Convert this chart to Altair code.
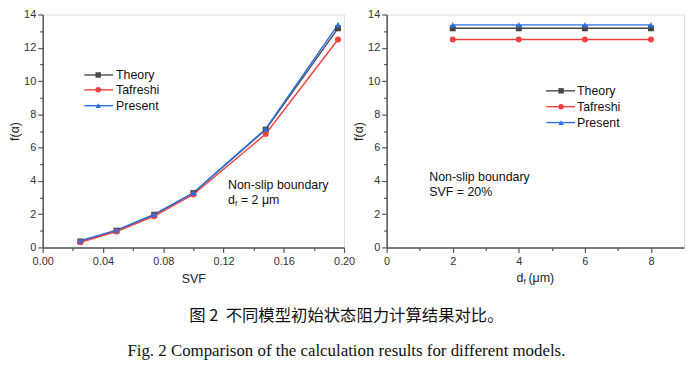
import altair as alt
import pandas as pd

# ---------------- data ----------------
series = ["Theory", "Tafreshi", "Present"]
colors = ["#474747", "#f23f3f", "#2b6fe3"]
shapes = ["square", "circle", "triangle-up"]

svf = [0.025, 0.049, 0.074, 0.100, 0.148, 0.196]
theory_svf = [0.36, 1.01, 1.97, 3.27, 7.08, 13.17]
tafreshi_svf = [0.31, 0.96, 1.88, 3.18, 6.82, 12.50]
present_svf = [0.40, 1.04, 1.99, 3.28, 7.12, 13.39]

df_um = [2, 4, 6, 8]
theory_df = [13.17, 13.17, 13.17, 13.17]
tafreshi_df = [12.50, 12.50, 12.50, 12.50]
present_df = [13.38, 13.38, 13.38, 13.38]

x_ticks_left = [0.00, 0.02, 0.04, 0.06, 0.08, 0.10, 0.12, 0.14, 0.16, 0.18, 0.20]
x_ticks_right = [0, 1, 2, 3, 4, 5, 6, 7, 8]
y_ticks = list(range(0, 15))

left_rows = []
for s, ys in zip(series, [theory_svf, tafreshi_svf, present_svf]):
    for x, y in zip(svf, ys):
        left_rows.append({"x": x, "y": y, "series": s})
left_df = pd.DataFrame(left_rows)

right_rows = []
for s, ys in zip(series, [theory_df, tafreshi_df, present_df]):
    for x, y in zip(df_um, ys):
        right_rows.append({"x": x, "y": y, "series": s})
right_df = pd.DataFrame(right_rows)

# ---------------- styling ----------------
FONT = "Liberation Sans"
AX = "#555555"
LW, LH = 304, 235
RW, RH = 300, 235

color_scale = alt.Scale(domain=series, range=colors)
shape_scale = alt.Scale(domain=series, range=shapes)


def y_axis():
    return alt.Axis(
        values=y_ticks,
        labelExpr="datum.value % 2 == 0 ? datum.value : ''",
        tickSize={"condition": {"test": "datum.value % 2 == 0", "value": 5}, "value": 3},
        title="f(α)",
        titleFont=FONT, titleFontSize=12.5, titleFontWeight="normal", titleColor="#222",
        titlePadding=2,
        labelFont=FONT, labelFontSize=11, labelColor="#333", labelPadding=2,
        domainColor=AX, domainWidth=1.5, tickColor=AX, tickWidth=1.2, grid=False,
    )


def panel(data, xaxis, xdomain):
    base = alt.Chart(data)
    x = alt.X("x:Q", scale=alt.Scale(domain=xdomain, nice=False, zero=False), axis=xaxis)
    y = alt.Y("y:Q", scale=alt.Scale(domain=[0, 14], nice=False), axis=y_axis())
    lines = base.mark_line(strokeWidth=1.4).encode(
        x=x, y=y,
        color=alt.Color("series:N", scale=color_scale, legend=None),
        detail="series:N",
    )
    pts = base.mark_point(filled=True, size=36, opacity=1).encode(
        x=x, y=y,
        color=alt.Color("series:N", scale=color_scale, legend=None),
        shape=alt.Shape("series:N", scale=shape_scale, legend=None),
    )
    return [lines, pts]


def legend_layers(x1, x2, xm, xt, ys):
    out = []
    for s, c, sh, yy in zip(series, colors, shapes, ys):
        d = pd.DataFrame({"label": [s]})
        out.append(alt.Chart(d).mark_rule(color=c, strokeWidth=1.4).encode(
            x=alt.value(x1), x2=alt.value(x2), y=alt.value(yy)))
        out.append(alt.Chart(d).mark_point(filled=True, size=30, color=c, shape=sh, opacity=1).encode(
            x=alt.value(xm), y=alt.value(yy)))
        out.append(alt.Chart(d).mark_text(align="left", baseline="middle", font=FONT,
                                          fontSize=12.5, color="#111").encode(
            x=alt.value(xt), y=alt.value(yy), text="label:N"))
    return out


def text_at(t, x, y, size=12.5, color="#111"):
    d = pd.DataFrame({"t": [t]})
    return alt.Chart(d).mark_text(align="left", baseline="middle", font=FONT,
                                  fontSize=size, color=color).encode(
        x=alt.value(x), y=alt.value(y), text="t:N")


# ---------------- left panel ----------------
left_xaxis = alt.Axis(
    values=x_ticks_left,
    labelExpr="round(datum.value*100) % 4 == 0 ? format(datum.value, '.2f') : ''",
    tickSize={"condition": {"test": "round(datum.value*100) % 4 == 0", "value": 5}, "value": 3},
    title="SVF", titleFont=FONT, titleFontSize=12.5, titleFontWeight="normal", titleColor="#222",
    titlePadding=6,
    labelFont=FONT, labelFontSize=11, labelColor="#333", labelPadding=3,
    labelOverlap=False, labelFlush=False,
    domainColor=AX, domainWidth=1.5, tickColor=AX, tickWidth=1.2, grid=False,
)
left_layers = panel(left_df, left_xaxis, [0, 0.2])
left_layers += legend_layers(42, 71, 56, 74, [61, 76, 92])
left_layers += [
    text_at("Non-slip boundary", 187, 172),
    text_at("d", 187, 187),
    text_at("f", 194, 191, size=8),
    text_at("= 2 μm", 200, 187),
]
left = alt.layer(*left_layers).properties(width=LW, height=LH)

# ---------------- right panel ----------------
right_xaxis = alt.Axis(
    values=x_ticks_right,
    labelExpr="datum.value % 2 == 0 ? datum.value : ''",
    tickSize={"condition": {"test": "datum.value % 2 == 0", "value": 5}, "value": 3},
    title=None,
    labelFont=FONT, labelFontSize=11, labelColor="#333", labelPadding=3,
    labelOverlap=False, labelFlush=False,
    domainColor=AX, domainWidth=1.5, tickColor=AX, tickWidth=1.2, grid=False,
)
right_layers = panel(right_df, right_xaxis, [0, 9])
right_layers += legend_layers(161, 190, 176, 192, [77, 93, 109])
right_layers += [
    text_at("Non-slip boundary", 43, 164),
    text_at("SVF = 20%", 43, 179),
    text_at("d", 131, 266, size=12.5, color="#222"),
    text_at("f", 138, 270, size=8, color="#222"),
    text_at("(μm)", 143, 266, size=12.5, color="#222"),
]
right = alt.layer(*right_layers).properties(width=RW, height=RH)

chart = alt.hconcat(left, right, spacing=43, bounds="flush").properties(
    title=alt.TitleParams(
        text="图 2\u00a0\u00a0不同模型初始状态阻力计算结果对比。",
        subtitle="Fig. 2 Comparison of the calculation results for different models.",
        orient="bottom", anchor="middle",
        font="Noto Sans CJK SC", fontSize=16.5, fontWeight="normal", color="#111",
        subtitleFont="Liberation Serif", subtitleFontSize=17, subtitleColor="#111",
        subtitlePadding=19, offset=22,
    ),
    padding={"left": 0, "top": -2, "right": 0, "bottom": 0},
).configure_view(stroke=AX, strokeWidth=1.5).configure(background="white")

chart.save("out.html", embed_options={"renderer": "svg", "actions": False})
